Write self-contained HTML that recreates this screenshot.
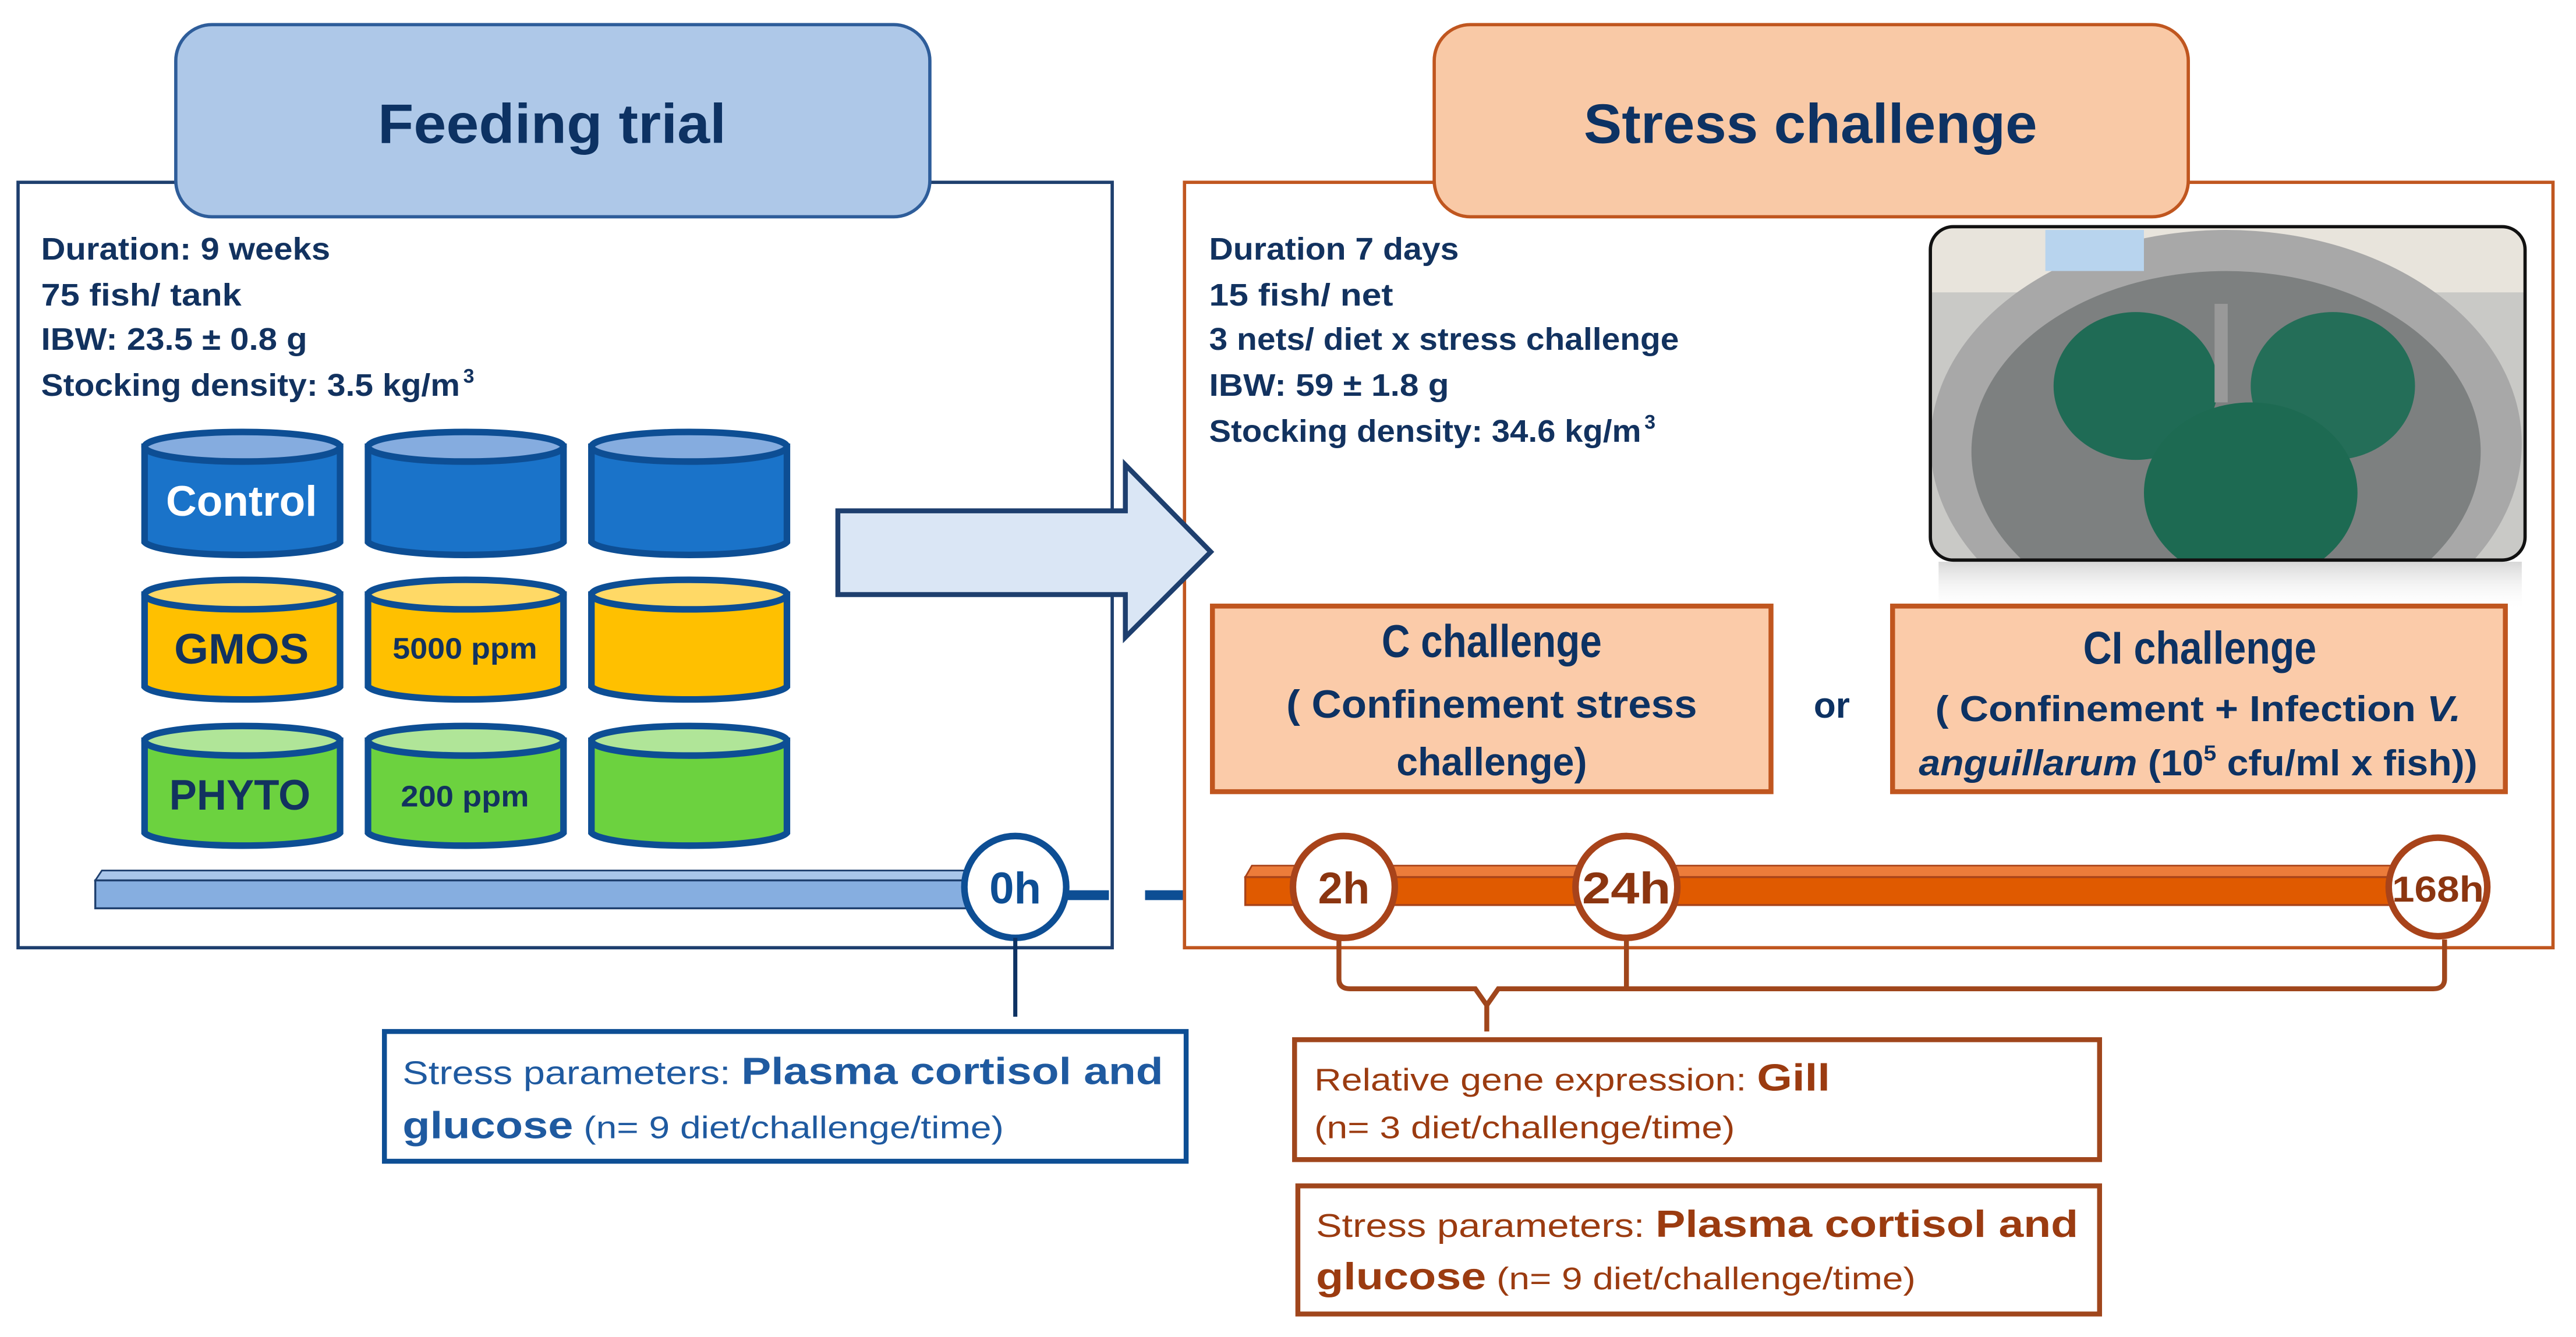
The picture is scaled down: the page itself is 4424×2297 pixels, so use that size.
<!DOCTYPE html>
<html><head><meta charset="utf-8"><style>
html,body{margin:0;padding:0;background:#fff;}
svg{display:block;}
text{font-family:"Liberation Sans Narrow","Liberation Sans",sans-serif;}
</style></head><body>
<svg width="4424" height="2297" viewBox="0 0 1568 814" preserveAspectRatio="none" xmlns="http://www.w3.org/2000/svg">
<defs>
<linearGradient id="sh" x1="0" y1="0" x2="0" y2="1"><stop offset="0" stop-color="#bbb" stop-opacity="0.6"/><stop offset="1" stop-color="#fff" stop-opacity="0"/></linearGradient>
</defs>
<rect x="11" y="111" width="666" height="466" fill="#fff" stroke="#1e3f6e" stroke-width="2"/>
<rect x="107" y="15" width="459" height="117" rx="22" fill="#aec8e8" stroke="#2e5d9a" stroke-width="2"/>
<text x="336" y="87" font-size="34" font-weight="bold" fill="#0d3263" text-anchor="middle" textLength="212" lengthAdjust="spacingAndGlyphs">Feeding trial</text>
<g font-size="19" font-weight="bold" fill="#12325f">
<text x="25" y="158" textLength="176" lengthAdjust="spacingAndGlyphs">Duration: 9 weeks</text>
<text x="25" y="186" textLength="122" lengthAdjust="spacingAndGlyphs">75 fish/ tank</text>
<text x="25" y="213" textLength="162" lengthAdjust="spacingAndGlyphs">IBW: 23.5 ± 0.8 g</text>
<text x="25" y="241" textLength="255" lengthAdjust="spacingAndGlyphs">Stocking density: 3.5 kg/m</text>
<text x="282" y="233" font-size="12">3</text>
</g>
<g stroke="#0d4e94" stroke-width="4">
<g fill="#1a73c9">
<path d="M88 272 V330 A60 9 0 0 0 207 330 V272 Z"/><ellipse cx="147.5" cy="272" rx="59.5" ry="9" fill="#85acdf"/>
<path d="M224 272 V330 A60 9 0 0 0 343 330 V272 Z"/><ellipse cx="283.5" cy="272" rx="59.5" ry="9" fill="#85acdf"/>
<path d="M360 272 V330 A60 9 0 0 0 479 330 V272 Z"/><ellipse cx="419.5" cy="272" rx="59.5" ry="9" fill="#85acdf"/>
</g>
<g fill="#ffc000">
<path d="M88 362 V418 A60 9 0 0 0 207 418 V362 Z"/><ellipse cx="147.5" cy="362" rx="59.5" ry="9" fill="#ffd966"/>
<path d="M224 362 V418 A60 9 0 0 0 343 418 V362 Z"/><ellipse cx="283.5" cy="362" rx="59.5" ry="9" fill="#ffd966"/>
<path d="M360 362 V418 A60 9 0 0 0 479 418 V362 Z"/><ellipse cx="419.5" cy="362" rx="59.5" ry="9" fill="#ffd966"/>
</g>
<g fill="#6cd23f">
<path d="M88 451 V507 A60 9 0 0 0 207 507 V451 Z"/><ellipse cx="147.5" cy="451" rx="59.5" ry="9" fill="#b0e598"/>
<path d="M224 451 V507 A60 9 0 0 0 343 507 V451 Z"/><ellipse cx="283.5" cy="451" rx="59.5" ry="9" fill="#b0e598"/>
<path d="M360 451 V507 A60 9 0 0 0 479 507 V451 Z"/><ellipse cx="419.5" cy="451" rx="59.5" ry="9" fill="#b0e598"/>
</g>
</g>
<text x="147" y="314" font-size="26" font-weight="bold" fill="#fff" text-anchor="middle" textLength="92" lengthAdjust="spacingAndGlyphs">Control</text>
<text x="147" y="404" font-size="26" font-weight="bold" fill="#12325f" text-anchor="middle" textLength="82" lengthAdjust="spacingAndGlyphs">GMOS</text>
<text x="283" y="401" font-size="18" font-weight="bold" fill="#12325f" text-anchor="middle" textLength="88" lengthAdjust="spacingAndGlyphs">5000 ppm</text>
<text x="146" y="493" font-size="26" font-weight="bold" fill="#12325f" text-anchor="middle" textLength="86" lengthAdjust="spacingAndGlyphs">PHYTO</text>
<text x="283" y="491" font-size="18" font-weight="bold" fill="#12325f" text-anchor="middle" textLength="78" lengthAdjust="spacingAndGlyphs">200 ppm</text>
<path d="M58 536 L62 530 H592 V536 Z" fill="#a9c6ea" stroke="#1e3f6e" stroke-width="1"/>
<rect x="58" y="536" width="534" height="17" fill="#86aee0" stroke="#1e3f6e" stroke-width="1.2"/>
<g stroke="#0d4e94" stroke-width="6">
<line x1="650" y1="545" x2="675" y2="545"/><line x1="697" y1="545" x2="723" y2="545"/><line x1="745" y1="545" x2="760" y2="545"/>
</g>
<circle cx="618" cy="540" r="31" fill="#fff" stroke="#0d4e94" stroke-width="4"/>
<text x="618" y="550" font-size="27" font-weight="bold" fill="#0d4e94" text-anchor="middle">0h</text>
<line x1="618" y1="571" x2="618" y2="619" stroke="#0d3263" stroke-width="2.5"/>
<rect x="234" y="628" width="488" height="79" fill="#fff" stroke="#0d4e94" stroke-width="3"/>
<text x="245" y="660" font-size="20" fill="#1f5aa0" textLength="463" lengthAdjust="spacingAndGlyphs">Stress parameters: <tspan font-weight="bold" font-size="23">Plasma cortisol and</tspan></text>
<text x="245" y="693" fill="#1f5aa0" textLength="366" lengthAdjust="spacingAndGlyphs"><tspan font-size="23" font-weight="bold">glucose</tspan><tspan font-size="19"> (n= 9 diet/challenge/time)</tspan></text>
<rect x="721" y="111" width="833" height="466" fill="#fff" stroke="#c0561f" stroke-width="2"/>
<rect x="873" y="15" width="459" height="117" rx="22" fill="#f9c9a6" stroke="#c0561f" stroke-width="2"/>
<text x="1102" y="87" font-size="34" font-weight="bold" fill="#0d3263" text-anchor="middle" textLength="276" lengthAdjust="spacingAndGlyphs">Stress challenge</text>
<path d="M510 311 H685 V283 L737 336 L685 388 V362 H510 Z" fill="#dae6f5" stroke="#1e3f6e" stroke-width="3"/>
<g font-size="19" font-weight="bold" fill="#12325f">
<text x="736" y="158" textLength="152" lengthAdjust="spacingAndGlyphs">Duration 7 days</text>
<text x="736" y="186" textLength="112" lengthAdjust="spacingAndGlyphs">15 fish/ net</text>
<text x="736" y="213" textLength="286" lengthAdjust="spacingAndGlyphs">3 nets/ diet x stress challenge</text>
<text x="736" y="241" textLength="146" lengthAdjust="spacingAndGlyphs">IBW: 59 ± 1.8 g</text>
<text x="736" y="269" textLength="263" lengthAdjust="spacingAndGlyphs">Stocking density: 34.6 kg/m</text>
<text x="1001" y="261" font-size="12">3</text>
</g>
<rect x="1180" y="342" width="355" height="30" fill="url(#sh)"/>
<g>
<clipPath id="pc"><rect x="1175" y="138" width="362" height="203" rx="14"/></clipPath>
<g clip-path="url(#pc)">
<rect x="1175" y="138" width="362" height="203" fill="#c9c9c6"/>
<rect x="1175" y="138" width="362" height="40" fill="#e8e4dc"/>
<ellipse cx="1355" cy="270" rx="180" ry="130" fill="#a8a8a8"/>
<ellipse cx="1355" cy="275" rx="155" ry="110" fill="#7d8080"/>
<ellipse cx="1300" cy="235" rx="50" ry="45" fill="#1f6b55"/>
<ellipse cx="1420" cy="235" rx="50" ry="45" fill="#246e58"/>
<ellipse cx="1370" cy="300" rx="65" ry="55" fill="#1d6a52"/>
<rect x="1348" y="185" width="8" height="60" fill="#999"/>
<rect x="1245" y="140" width="60" height="25" fill="#b8d4ee"/>
</g>
<rect x="1175" y="138" width="362" height="203" rx="14" fill="none" stroke="#111" stroke-width="2"/>
</g>
<rect x="738" y="369" width="340" height="113" fill="#fbcba9" stroke="#c0561f" stroke-width="3"/>
<g font-weight="bold" fill="#0d3263" text-anchor="middle">
<text x="908" y="400" font-size="28" textLength="134" lengthAdjust="spacingAndGlyphs">C challenge</text>
<text x="908" y="437" font-size="24" textLength="250" lengthAdjust="spacingAndGlyphs">( Confinement stress</text>
<text x="908" y="472" font-size="24" textLength="116" lengthAdjust="spacingAndGlyphs">challenge)</text>
<text x="1115" y="437" font-size="22">or</text>
</g>
<rect x="1152" y="369" width="373" height="113" fill="#fbcba9" stroke="#c0561f" stroke-width="3"/>
<g font-weight="bold" fill="#0d3263" text-anchor="middle">
<text x="1339" y="404" font-size="28" textLength="142" lengthAdjust="spacingAndGlyphs">CI challenge</text>
<text x="1338" y="439" font-size="22" textLength="320" lengthAdjust="spacingAndGlyphs">( Confinement + Infection <tspan font-style="italic">V.</tspan></text>
<text x="1338" y="472" font-size="22" textLength="340" lengthAdjust="spacingAndGlyphs"><tspan font-style="italic">anguillarum</tspan>  (10<tspan font-size="13" dy="-9">5</tspan><tspan dy="9"> cfu/ml x fish))</tspan></text>
</g>
<path d="M758 534 L762 527 H1490 V534 Z" fill="#ec7c3a" stroke="#a8431a" stroke-width="1"/>
<rect x="758" y="534" width="732" height="17" fill="#e05a00" stroke="#a8431a" stroke-width="1.2"/>
<g fill="#fff" stroke="#a8431a" stroke-width="4">
<circle cx="818" cy="540" r="31"/><circle cx="990" cy="540" r="31"/><circle cx="1484" cy="540" r="30"/>
</g>
<g font-weight="bold" fill="#8b3510" text-anchor="middle">
<text x="818" y="550" font-size="27">2h</text>
<text x="990" y="550" font-size="27" textLength="54" lengthAdjust="spacingAndGlyphs">24h</text>
<text x="1484" y="549" font-size="22" textLength="56" lengthAdjust="spacingAndGlyphs">168h</text>
</g>
<g fill="none" stroke="#a0461c" stroke-width="3">
<path d="M815 572 V596 Q815 602 822 602 H898 L905 612 V628"/>
<path d="M905 612 L912 602 H1481 Q1488 602 1488 596 V572"/>
<line x1="990" y1="572" x2="990" y2="602"/>
</g>
<rect x="788" y="633" width="490" height="73" fill="#fff" stroke="#a0461c" stroke-width="3"/>
<text x="800" y="664" font-size="19" fill="#9b3b10" textLength="314" lengthAdjust="spacingAndGlyphs">Relative gene expression: <tspan font-weight="bold" font-size="23">Gill</tspan></text>
<text x="800" y="693" font-size="19" fill="#9b3b10" textLength="256" lengthAdjust="spacingAndGlyphs">(n= 3 diet/challenge/time)</text>
<rect x="790" y="722" width="488" height="78" fill="#fff" stroke="#a0461c" stroke-width="3"/>
<text x="801" y="753" font-size="20" fill="#9b3b10" textLength="464" lengthAdjust="spacingAndGlyphs">Stress parameters: <tspan font-weight="bold" font-size="23">Plasma cortisol and</tspan></text>
<text x="801" y="785" fill="#9b3b10" textLength="365" lengthAdjust="spacingAndGlyphs"><tspan font-size="23" font-weight="bold">glucose</tspan><tspan font-size="19"> (n= 9 diet/challenge/time)</tspan></text>
</svg>
</body></html>
